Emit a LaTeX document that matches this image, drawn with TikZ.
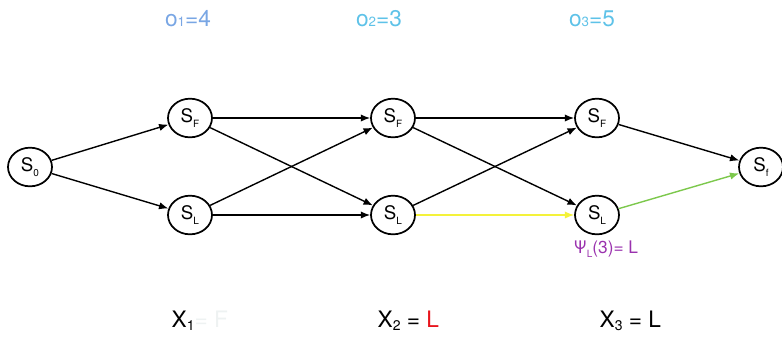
\documentclass[tikz,border=0pt]{standalone}
\usepackage{fontspec}
\setmainfont{TeX Gyre Heros}
\usepackage{xcolor}
\definecolor{obsblue}{HTML}{79A6E4}
\definecolor{obscyan}{HTML}{5EC2E8}
\definecolor{pathyellow}{HTML}{F4F23A}
\definecolor{pathgreen}{HTML}{7CC84C}
\definecolor{psipurple}{HTML}{9A32AE}
\definecolor{wrongred}{HTML}{E8141C}
\definecolor{faintgrey}{HTML}{EEF2F2}
\usetikzlibrary{arrows.meta,shapes.geometric}
\newcommand{\dn}[1]{\raisebox{-0.45ex}{\fontsize{7.5pt}{8pt}\selectfont #1}}
\newcommand{\xdn}[1]{\raisebox{-0.3ex}{\fontsize{10.5pt}{11pt}\selectfont #1}}
\newcommand{\onsub}[1]{{\fontsize{10pt}{11pt}\selectfont #1}}

\begin{document}
\begin{tikzpicture}[x=0.75pt, y=-0.75pt,
  state/.style={draw, ellipse, line width=1.3pt, minimum width=33pt, minimum height=29pt, inner sep=0pt, font=\fontsize{14pt}{16pt}\selectfont},
  trans/.style={-{Latex[length=7pt,width=5.5pt]}, line width=1.05pt},
  obs/.style={font=\fontsize{17pt}{19pt}\selectfont},
  var/.style={font=\fontsize{17pt}{19pt}\selectfont, anchor=base west}]
\useasboundingbox (0,0) rectangle (782,337);
% states
\node[state] (s0) at (30,167) {S\dn{0}};
\node[state] (sf1) at (190,118) {S\dn{F}};
\node[state] (sl1) at (190,215) {S\dn{L}};
\node[state] (sf2) at (393,118) {S\dn{F}};
\node[state] (sl2) at (393,215) {S\dn{L}};
\node[state] (sf3) at (597,118) {S\dn{F}};
\node[state] (sl3) at (597,215) {S\dn{L}};
\node[state] (sfin) at (761,167) {S\dn{f}};
% transitions
\draw[trans] (s0) -- (sf1);
\draw[trans] (s0) -- (sl1);
\draw[trans] (sf1) -- (sf2);
\draw[trans] (sf1) -- (sl2);
\draw[trans] (sl1) -- (sf2);
\draw[trans] (sl1) -- (sl2);
\draw[trans] (sf2) -- (sf3);
\draw[trans] (sf2) -- (sl3);
\draw[trans] (sl2) -- (sf3);
\draw[trans, pathyellow] (sl2) -- (sl3);
\draw[trans] (sf3) -- (sfin);
\draw[trans, pathgreen] (sl3) -- (sfin);
% observations
\node[obs, text=obsblue] (o1) at (188,19) {o\onsub{1}=4};
\node[obs, text=obscyan] (o2) at (379,19) {o\onsub{2}=3};
\node[obs, text=obscyan] (o3) at (592,19) {o\onsub{3}=5};
% decoded path
\node[text=psipurple, font=\fontsize{13pt}{15pt}\selectfont] (psi) at (606,249) {Ψ\dn{L}(3)= L};
\node[var] (x1) at (167,327) {X\xdn{1}\textcolor{faintgrey}{ = F}};
\node[var] (x2) at (373,327) {X\xdn{2} = \textcolor{wrongred}{L}};
\node[var] (x3) at (595,327) {X\xdn{3} = L};
\end{tikzpicture}
\end{document}
